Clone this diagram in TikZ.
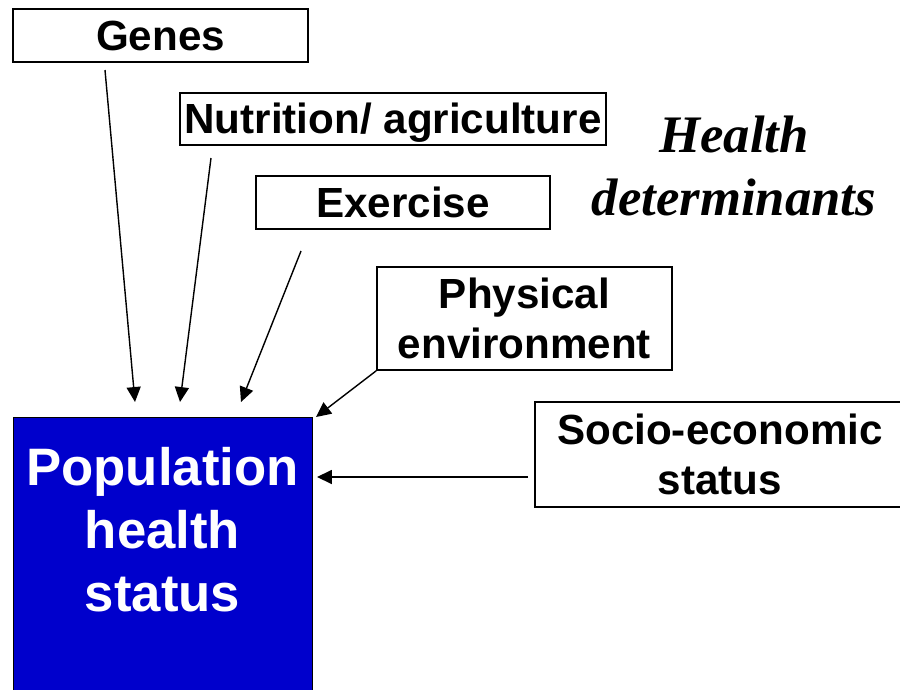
\documentclass[tikz,border=0pt]{standalone}
\usepackage{fontspec}
\setmainfont{Liberation Sans}
\newfontfamily\serifbi{Liberation Serif}
\usepackage{xcolor}
\usetikzlibrary{arrows.meta,positioning}
\definecolor{popblue}{RGB}{0,0,204}

\begin{document}
\begin{tikzpicture}[
    x=0.02cm, y=-0.02cm,
    factor/.style={rectangle, draw, line width=0.9pt, inner sep=0pt, align=center, font=\fontsize{24}{28}\selectfont\bfseries},
    oneline/.style={text height=17pt, text depth=0pt},
    popbox/.style={rectangle, draw, fill=popblue, inner sep=0pt, minimum width=5.98cm, minimum height=5.46cm},
    poptext/.style={anchor=north, inner sep=0pt, yshift=-0.6cm, align=center, text=white, font=\fontsize{30}{36}\selectfont\bfseries},
    arrow/.style={-{Triangle[length=8.5pt,width=8pt]}, line width=0.8pt}
]
\useasboundingbox (0,0) rectangle (900,690);
\node[factor, oneline, minimum width=5.9cm, minimum height=1.06cm] (genes) at (160.5,35.5) {Genes};
\node[factor, oneline, minimum width=8.52cm, minimum height=1.04cm] (nutri) at (393,119) {Nutrition/ agriculture};
\node[factor, oneline, minimum width=5.88cm, minimum height=1.06cm] (exer) at (403,202.5) {Exercise};
\node[factor, minimum width=5.9cm, minimum height=2.06cm] (phys) at (524.5,318.5) {Physical\\environment};
\node[factor, minimum width=7.4cm, minimum height=2.1cm] (socio) at (720,454.5) {Socio-economic\\status};
\node[popbox, label={[poptext]north:Population\\health\\status}] (pop) at (162.5,553.5) {};
\node[align=center, font=\serifbi\fontsize{30}{36}\selectfont\bfseries\itshape] (title) at (734,166) {Health\\determinants};
% arrow ends
\coordinate (genes-out) at (105,70);
\coordinate (genes-in) at (135,402);
\coordinate (nutri-out) at (211,158);
\coordinate (nutri-in) at (180,402);
\coordinate (exer-out) at (301,251);
\coordinate (exer-in) at (241,402);
\coordinate (phys-in) at (316,417);
\coordinate (socio-out) at (528,477);
\coordinate (socio-in) at (317,477);
\foreach \a/\b in {genes-out/genes-in, nutri-out/nutri-in, exer-out/exer-in, socio-out/socio-in} {\draw[arrow] (\a) -- (\b);}
\draw[arrow] (phys.south west) -- (phys-in);
\end{tikzpicture}
\end{document}
